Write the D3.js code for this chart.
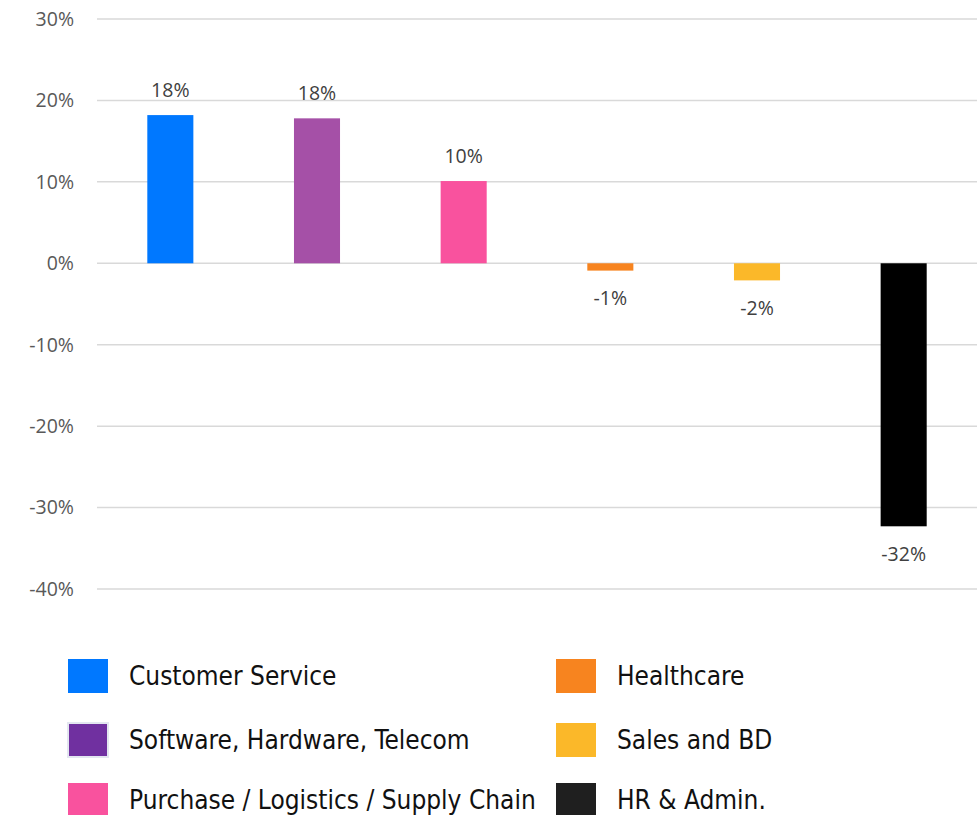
<!DOCTYPE html>
<html>
<head>
<meta charset="utf-8">
<script src="https://cdn.jsdelivr.net/npm/d3@7"></script>
<style>
  body { margin: 0; background: #fff; }
  .tick-label { font-family: "Open Sans", sans-serif; font-size: 19.5px; fill: #595959; }
  .bar-label { font-family: "Open Sans", sans-serif; font-size: 19.5px; fill: #404040; }
  .legend-text { font-family: "DejaVu Sans Condensed", "DejaVu Sans", sans-serif; font-size: 26px; fill: #111; }
</style>
</head>
<body>
<svg id="viz-container" width="977" height="815"></svg>
<script>
var categories = ["Customer Service", "Software, Hardware, Telecom", "Purchase / Logistics / Supply Chain",
                  "Healthcare", "Sales and BD", "HR & Admin."];
var values = [0.182, 0.178, 0.101, -0.009, -0.021, -0.323];
var value_labels = ["18%", "18%", "10%", "-1%", "-2%", "-32%"];
var bar_colors = ["#0078ff", "#a550a7", "#f9529e", "#f7841f", "#fbb829", "#000000"];
var legend_colors = ["#0078ff", "#7030a0", "#f9529e", "#f7841f", "#fbb829", "#1f1f1f"];
var y_ticks = [0.3, 0.2, 0.1, 0, -0.1, -0.2, -0.3, -0.4];

var width = 977
  , height = 815
  , plot_left = 97
  , plot_right = 977;

var svg = d3.select("#viz-container");

var x = d3.scaleBand()
    .domain(categories)
    .range([plot_left, plot_right])
    .paddingInner(0.686)
    .paddingOuter(0.343);

var y = d3.scaleLinear()
    .domain([-0.4, 0.3])
    .range([589, 19]);

// gridlines
svg.append("g").selectAll("line")
    .data(y_ticks)
  .enter().append("line")
    .attr("x1", plot_left)
    .attr("x2", plot_right)
    .attr("y1", function(d){ return y(d); })
    .attr("y2", function(d){ return y(d); })
    .attr("stroke", "#d9d9d9")
    .attr("stroke-width", 1.5);

// y labels
svg.append("g").selectAll("text")
    .data(y_ticks)
  .enter().append("text")
    .classed("tick-label", true)
    .attr("x", 74)
    .attr("y", function(d){ return y(d); })
    .attr("dy", "0.35em")
    .style("text-anchor", "end")
    .text(function(d){ return d3.format(".0%")(d).replace("−", "-"); });

// bars
svg.append("g").selectAll("rect")
    .data(values)
  .enter().append("rect")
    .attr("x", function(d, i){ return x(categories[i]); })
    .attr("width", x.bandwidth())
    .attr("y", function(d){ return y(Math.max(0, d)); })
    .attr("height", function(d){ return Math.abs(y(d) - y(0)); })
    .attr("fill", function(d, i){ return bar_colors[i]; });

// value labels
svg.append("g").selectAll("text")
    .data(values)
  .enter().append("text")
    .classed("bar-label", true)
    .attr("x", function(d, i){ return x(categories[i]) + x.bandwidth() / 2; })
    .attr("y", function(d){ return d >= 0 ? y(d) - 25 : y(d) + 28; })
    .attr("dy", "0.35em")
    .style("text-anchor", "middle")
    .text(function(d, i){ return value_labels[i]; });

// legend: two columns, three rows
var col_x = [68, 556]
  , row_y = [676, 740, 800]
  , text_dx = 61;

var legend = svg.append("g").selectAll("g")
    .data(categories)
  .enter().append("g")
    .attr("transform", function(d, i){
      return "translate(" + col_x[Math.floor(i / 3)] + "," + row_y[i % 3] + ")";
    });

legend.append("rect")
    .attr("x", 0)
    .attr("y", -17)
    .attr("width", 40)
    .attr("height", 34)
    .attr("fill", function(d, i){ return legend_colors[i]; })
    .attr("stroke", function(d, i){ return i == 1 ? "#e3e6f0" : "none"; })
    .attr("stroke-width", 2);

legend.append("text")
    .classed("legend-text", true)
    .attr("x", text_dx)
    .attr("y", 0)
    .attr("dy", "0.35em")
    .text(function(d){ return d; });
</script>
</body>
</html>
